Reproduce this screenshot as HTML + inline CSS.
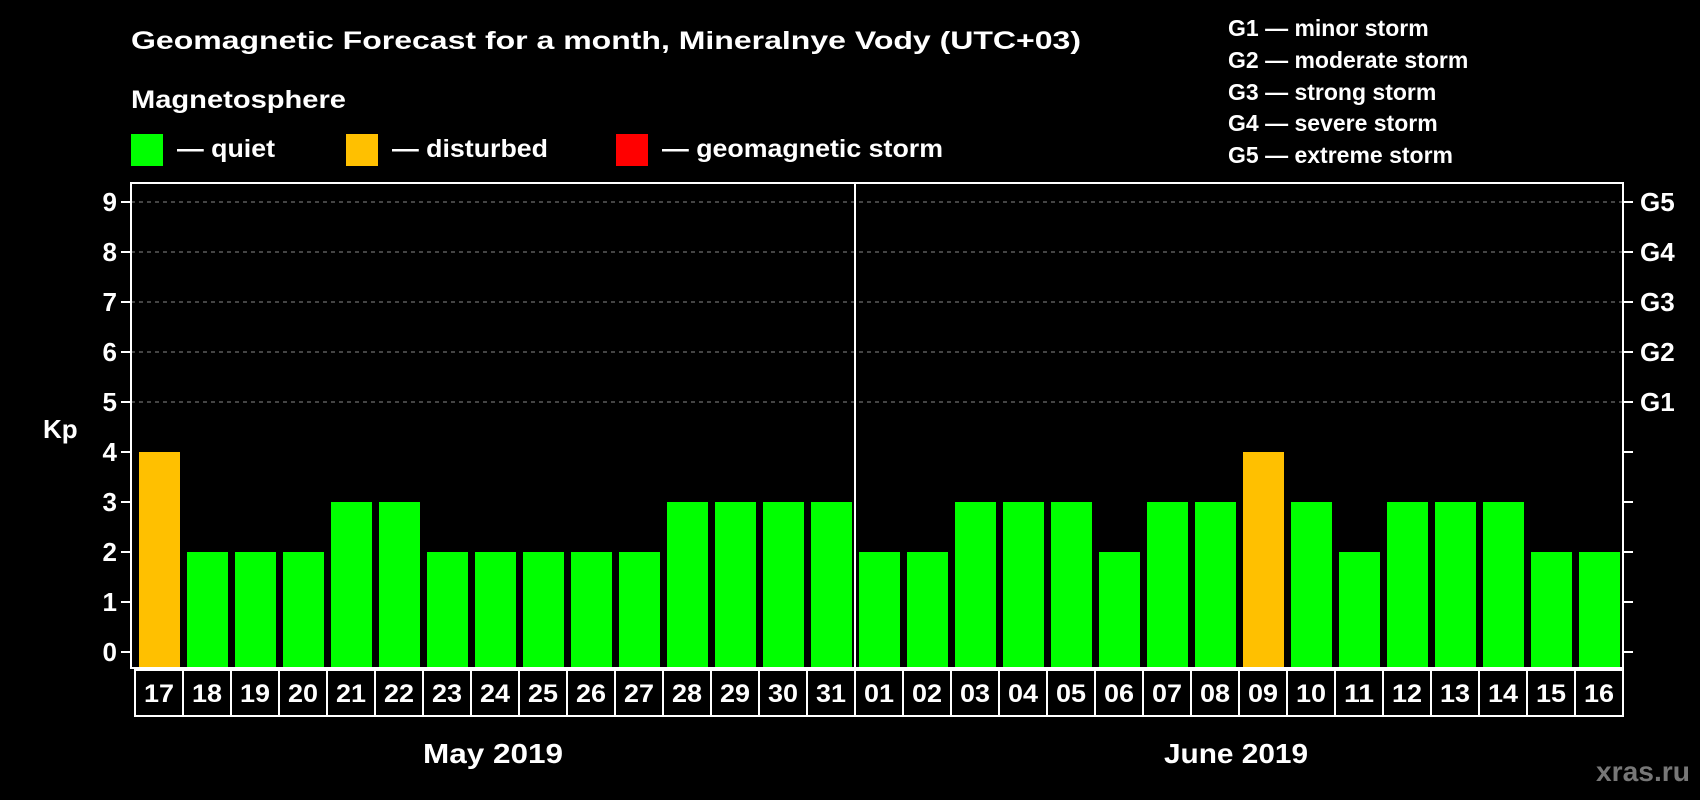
<!DOCTYPE html>
<html><head><meta charset="utf-8"><style>
html,body{margin:0;padding:0;background:#000;}
svg{display:block;font-family:"Liberation Sans",Arial,sans-serif;font-weight:bold;}
</style></head><body>
<svg id="chart" width="1700" height="800" viewBox="0 0 1700 800" xmlns="http://www.w3.org/2000/svg">
<rect width="1700" height="800" fill="#000"/>
<text x="131" y="49" fill="#fff" font-size="25" textLength="950" lengthAdjust="spacingAndGlyphs">Geomagnetic Forecast for a month, Mineralnye Vody (UTC+03)</text>
<text x="131" y="108" fill="#fff" font-size="25" textLength="215" lengthAdjust="spacingAndGlyphs">Magnetosphere</text>
<g>
<rect x="131" y="134" width="32" height="32" fill="#00ff00"/>
<text x="177" y="157" fill="#fff" font-size="25" textLength="98" lengthAdjust="spacingAndGlyphs">— quiet</text></g>
<g>
<rect x="346" y="134" width="32" height="32" fill="#ffc000"/>
<text x="392" y="157" fill="#fff" font-size="25" textLength="156" lengthAdjust="spacingAndGlyphs">— disturbed</text></g>
<g>
<rect x="616" y="134" width="32" height="32" fill="#ff0000"/>
<text x="662" y="157" fill="#fff" font-size="25" textLength="281" lengthAdjust="spacingAndGlyphs">— geomagnetic storm</text></g>
<g fill="#fff" font-size="23">
<text x="1228" y="36">G1 — minor storm</text>
<text x="1228" y="68">G2 — moderate storm</text>
<text x="1228" y="100">G3 — strong storm</text>
<text x="1228" y="131">G4 — severe storm</text>
<text x="1228" y="163">G5 — extreme storm</text>
</g>
<text x="43" y="438" fill="#fff" font-size="26">Kp</text>
<g id="plot"></g>
<text x="493" y="763" fill="#fff" font-size="28" text-anchor="middle" textLength="140" lengthAdjust="spacingAndGlyphs">May 2019</text>
<text x="1236" y="763" fill="#fff" font-size="28" text-anchor="middle" textLength="144" lengthAdjust="spacingAndGlyphs">June 2019</text>
<text x="1690" y="781" fill="#777" font-size="28" text-anchor="end" textLength="94" lengthAdjust="spacingAndGlyphs">xras.ru</text>
</svg>
<script>
const days = ["17","18","19","20","21","22","23","24","25","26","27","28","29","30","31","01","02","03","04","05","06","07","08","09","10","11","12","13","14","15","16"];
const kpValues = [4,2,2,2,3,3,2,2,2,2,2,3,3,3,3,2,2,3,3,3,2,3,3,4,3,2,3,3,3,2,2];
const yTicks = [0,1,2,3,4,5,6,7,8,9];
const gLabels = ["","","","","","G1","G2","G3","G4","G5"];
const NS="http://www.w3.org/2000/svg";
const plot=document.getElementById('plot');
const L=131,R=1623,T=183,B=668,Y0=652,YU=50;
const X0=139,PITCH=48,BW=41;
const y=v=>Y0-v*YU;
const x=i=>X0+i*PITCH;
function mk(tag,attrs){const e=document.createElementNS(NS,tag);for(const k in attrs)e.setAttribute(k,attrs[k]);plot.appendChild(e);return e;}
// gridlines & ticks
yTicks.forEach((v,i)=>{
  if(v>=5){const g=mk('line',{x1:L,x2:R,y1:y(v),y2:y(v),stroke:'#888','stroke-width':1,'stroke-dasharray':'4,4'});
  
  }
  const t1=mk('line',{x1:L-10,x2:L,y1:y(v),y2:y(v),stroke:'#fff','stroke-width':2});
  
  
  const t2=mk('line',{x1:R,x2:R+10,y1:y(v),y2:y(v),stroke:'#fff','stroke-width':2});
  
  
  const lb=mk('text',{x:117,y:y(v)+9,fill:'#fff','font-size':26,'text-anchor':'end'});
  lb.textContent=v;
  
  
  if(gLabels[i]){const gl=mk('text',{x:1640,y:y(v)+9,fill:'#fff','font-size':26});
  gl.textContent=gLabels[i];
  
  }
});
// bars
kpValues.forEach((v,i)=>{
  const b=mk('rect',{x:x(i),y:y(v),width:BW,height:y(0)-y(v)+16,fill:v>=5?'#ff0000':(v>=4?'#ffc000':'#00ff00')});
  
  
});
// frame
const fr=mk('rect',{x:L,y:T,width:R-L,height:B-T,fill:'none',stroke:'#fff','stroke-width':2});


const mdiv=mk('line',{x1:855,x2:855,y1:T,y2:B,stroke:'#fff','stroke-width':2});


// day label boxes
days.forEach((d,i)=>{
  const bx=mk('rect',{x:x(i)-4,y:670,width:PITCH,height:46,fill:'none',stroke:'#fff','stroke-width':2});
  
  
  const t=mk('text',{x:x(i)-4+PITCH/2,y:702,fill:'#fff','font-size':25,'text-anchor':'middle',textLength:30,lengthAdjust:'spacingAndGlyphs'});
  t.textContent=d;
  
  
});
</script>
</body></html>
